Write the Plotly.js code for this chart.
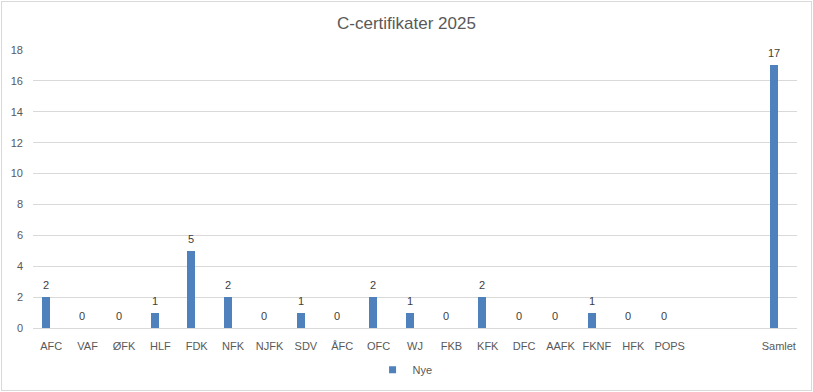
<!DOCTYPE html>
<html>
<head>
<meta charset="utf-8">
<script src="https://cdn.plot.ly/plotly-3.0.1.min.js"></script>
<style>
  html, body { margin: 0; padding: 0; background: #fff; }
  #chart { position: absolute; left: 1px; top: 1px; width: 809px; height: 388px; border: 1px solid #d9d9d9; }
</style>
</head>
<body>
<div id="chart"></div>
<script>
const categories = ["AFC","VAF","ØFK","HLF","FDK","NFK","NJFK","SDV","ÅFC","OFC","WJ","FKB","KFK","DFC","AAFK","FKNF","HFK","POPS","","","Samlet"];
const nye = [2,0,0,1,5,2,0,1,0,2,1,0,2,0,0,1,0,0,null,null,17];
const seriesName = "Nye";
const yTicks = [0,2,4,6,8,10,12,14,16,18];

const positions = categories.map((c, i) => i);
const fontFam = "Liberation Sans, Arial, sans-serif";
const barColor = "#4f81bd";
const barWidth = 0.22, barOffset = -0.255;

const barTrace = {
  type: "bar",
  x: positions,
  y: nye,
  name: seriesName,
  showlegend: false,
  marker: { color: barColor },
  width: barWidth,
  offset: barOffset,
  cliponaxis: false,
  hoverinfo: "x+y"
};

// legend entry with a small square marker, like the reference
const legendTrace = {
  type: "scatter", mode: "markers",
  x: [null], y: [null],
  name: seriesName,
  marker: { symbol: "square", size: 7, color: barColor },
  showlegend: true, hoverinfo: "skip"
};

// data labels above each bar
const labelAnnotations = [];
nye.forEach((v, i) => {
  if (v === null) return;
  labelAnnotations.push({
    x: positions[i] + barOffset + barWidth / 2, y: v, xref: "x", yref: "y",
    text: String(v), showarrow: false, yanchor: "bottom", yshift: 4,
    font: { family: fontFam, size: 11, color: "#404040" }
  });
});

const layout = {
  width: 809, height: 388,
  margin: { l: 31, r: 14, t: 48, b: 62, autoexpand: false },
  paper_bgcolor: "#fff",
  plot_bgcolor: "#fff",
  title: { text: "C-certifikater 2025", x: 0.5, xanchor: "center", y: 0.945, yanchor: "middle",
           font: { family: fontFam, size: 17, color: "#595959" } },
  showlegend: true,
  legend: { orientation: "h", x: 0.487, xanchor: "center", y: -0.15, yanchor: "middle",
            font: { family: fontFam, size: 11, color: "#595959" }, itemwidth: 30 },
  annotations: labelAnnotations,
  xaxis: {
    range: [-0.5, categories.length - 0.5],
    tickmode: "array", tickvals: positions, ticktext: categories,
    showgrid: false, zeroline: false, showline: true, linecolor: "#d9d9d9", linewidth: 1,
    ticks: "", tickangle: 0, ticklabelstandoff: 8,
    tickfont: { family: fontFam, size: 11, color: "#595959" }
  },
  yaxis: {
    range: [0, 18],
    tickmode: "array", tickvals: yTicks,
    showgrid: true, gridcolor: "#d9d9d9", gridwidth: 1,
    zeroline: false, showline: false, ticks: "",
    ticklabelstandoff: 9,
    tickfont: { family: fontFam, size: 11, color: "#595959" }
  },
  bargap: 0
};

Plotly.newPlot("chart", [barTrace, legendTrace], layout, { displayModeBar: false, staticPlot: true });
</script>
</body>
</html>
